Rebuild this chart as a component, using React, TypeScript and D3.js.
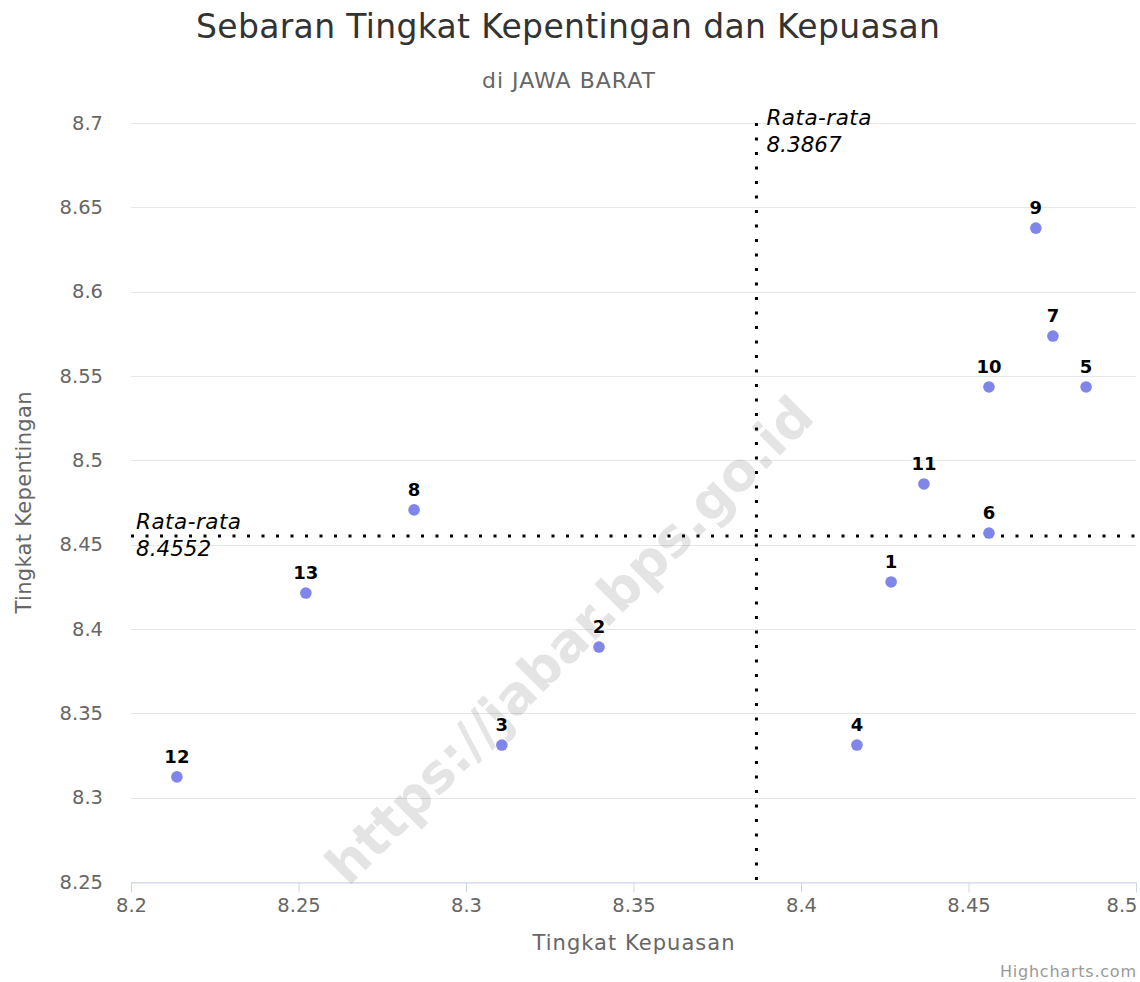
import React, { useEffect, useRef } from "react";
import * as d3 from "d3";

const labels = ["1", "2", "3", "4", "5", "6", "7", "8", "9", "10", "11", "12", "13"];
const kepuasan = [8.4269, 8.3397, 8.3107, 8.4167, 8.4851, 8.4561, 8.4752, 8.2845, 8.4701, 8.4561, 8.4367, 8.2137, 8.2522];
const kepentingan = [8.4279, 8.3893, 8.3312, 8.3312, 8.5435, 8.4569, 8.5737, 8.4706, 8.6377, 8.5435, 8.486, 8.3123, 8.4213];
const xTicks = [8.2, 8.25, 8.3, 8.35, 8.4, 8.45, 8.5];
const yTicks = [8.25, 8.3, 8.35, 8.4, 8.45, 8.5, 8.55, 8.6, 8.65, 8.7];
const meanX = 8.3867;
const meanY = 8.4552;

const width = 1140;
const height = 982;
const font = "'DejaVu Sans', sans-serif";

const App = () => {
  const svgRef = useRef<SVGSVGElement>(null);

  useEffect(() => {
    const svg = d3.select(svgRef.current);
    svg.selectAll("*").remove();

    const marginLeft = 131;
    const marginRight = 4;
    const marginTop = 123;
    const marginBottom = 100;

    const x = d3.scaleLinear().domain([8.2, 8.5]).range([marginLeft, width - marginRight]);
    const y = d3.scaleLinear().domain([8.25, 8.7]).range([height - marginBottom, marginTop]);

    svg.append("rect").attr("width", width).attr("height", height).attr("fill", "#fff");

    // title
    svg.append("text")
      .attr("x", 196).attr("y", 38)
      .attr("textLength", 744).attr("lengthAdjust", "spacing")
      .style("font-family", font).style("font-size", "33px").style("fill", "#333")
      .text("Sebaran Tingkat Kepentingan dan Kepuasan");
    svg.append("text")
      .attr("x", 482).attr("y", 88)
      .attr("textLength", 173).attr("lengthAdjust", "spacing")
      .style("font-family", font).style("font-size", "22px").style("fill", "#666")
      .text("di JAWA BARAT");

    // grid
    svg.append("g")
      .selectAll("line")
      .data(yTicks)
      .join("line")
      .attr("x1", marginLeft).attr("x2", width - marginRight)
      .attr("y1", (d) => Math.round(y(d)) + 0.5).attr("y2", (d) => Math.round(y(d)) + 0.5)
      .attr("stroke", "#e6e6e6").attr("stroke-width", 1);

    // x axis
    const xAxis = svg.append("g")
      .attr("transform", `translate(0,${height - marginBottom + 0.5})`)
      .call(d3.axisBottom(x).tickValues(xTicks).tickSize(10).tickPadding(6).tickFormat((d) => String(d)));
    xAxis.select(".domain").attr("stroke", "#ccd6eb");
    xAxis.selectAll(".tick line").attr("stroke", "#ccd6eb");
    xAxis.selectAll(".tick text")
      .style("font-family", font).style("font-size", "19.5px").style("fill", "#666");
    xAxis.selectAll<SVGTextElement, number>(".tick text")
      .filter((d) => d === 8.5)
      .attr("text-anchor", "end").attr("dx", 1);

    // y axis labels
    const yAxis = svg.append("g")
      .attr("transform", `translate(${marginLeft},0)`)
      .call(d3.axisLeft(y).tickValues(yTicks).tickSize(0).tickPadding(28).tickFormat((d) => String(d)));
    yAxis.select(".domain").remove();
    yAxis.selectAll(".tick text")
      .style("font-family", font).style("font-size", "19.5px").style("fill", "#666");

    // axis titles
    svg.append("text")
      .attr("x", (marginLeft + width - marginRight) / 2).attr("y", 950)
      .attr("text-anchor", "middle")
      .attr("textLength", 202).attr("lengthAdjust", "spacing")
      .style("font-family", font).style("font-size", "21px").style("fill", "#666")
      .text("Tingkat Kepuasan");
    svg.append("text")
      .attr("transform", `translate(31,${(marginTop + height - marginBottom) / 2}) rotate(-90)`)
      .attr("text-anchor", "middle")
      .attr("textLength", 222).attr("lengthAdjust", "spacing")
      .style("font-family", font).style("font-size", "21px").style("fill", "#666")
      .text("Tingkat Kepentingan");

    // watermark
    svg.append("text")
      .attr("transform", `translate(572,643) rotate(-45)`)
      .attr("text-anchor", "middle")
      .attr("dominant-baseline", "middle")
      .style("font-family", font).style("font-size", "53px").style("font-weight", "bold")
      .style("fill", "#000").style("opacity", 0.1)
      .text("https://jabar.bps.go.id");

    // mean lines
    svg.append("line")
      .attr("x1", x(meanX)).attr("x2", x(meanX))
      .attr("y1", marginTop).attr("y2", height - marginBottom)
      .attr("stroke", "#000").attr("stroke-width", 3).attr("stroke-dasharray", "3,11.5");
    svg.append("line")
      .attr("x1", marginLeft).attr("x2", width - marginRight)
      .attr("y1", y(meanY)).attr("y2", y(meanY))
      .attr("stroke", "#000").attr("stroke-width", 3).attr("stroke-dasharray", "3,11.5");

    const meanLabel = (tx: number, ty: number, l1: string, l2: string) => {
      const t = svg.append("text")
        .attr("x", tx).attr("y", ty)
        .style("font-family", font).style("font-size", "21.5px").style("font-style", "italic").style("fill", "#000");
      t.append("tspan").attr("x", tx).attr("textLength", 105).attr("lengthAdjust", "spacing").text(l1);
      t.append("tspan").attr("x", tx).attr("dy", 27).text(l2);
    };
    meanLabel(x(meanX) + 10, 125, "Rata-rata", String(meanX));
    meanLabel(marginLeft + 5, y(meanY) - 7, "Rata-rata", String(meanY));

    // points
    const idx = d3.range(labels.length);
    svg.append("g")
      .selectAll("circle")
      .data(idx)
      .join("circle")
      .attr("cx", (i) => x(kepuasan[i]))
      .attr("cy", (i) => y(kepentingan[i]))
      .attr("r", 5.8)
      .attr("fill", "#8085e9");

    svg.append("g")
      .selectAll("text")
      .data(idx)
      .join("text")
      .attr("x", (i) => x(kepuasan[i]))
      .attr("y", (i) => y(kepentingan[i]) - 14)
      .attr("text-anchor", "middle")
      .style("font-family", font).style("font-size", "18px").style("font-weight", "bold")
      .style("fill", "#000")
      .style("stroke", "#fff").style("stroke-width", 2).style("paint-order", "stroke")
      .text((i) => labels[i]);

    // credits
    svg.append("text")
      .attr("x", 1000).attr("y", 977)
      .attr("textLength", 136).attr("lengthAdjust", "spacing")
      .style("font-family", font).style("font-size", "16px").style("fill", "#999")
      .text("Highcharts.com");
  }, []);

  return (
    <>
      <style>{"body{margin:0}"}</style>
      <svg width={width} height={height} ref={svgRef}></svg>
    </>
  );
};

export default App;
